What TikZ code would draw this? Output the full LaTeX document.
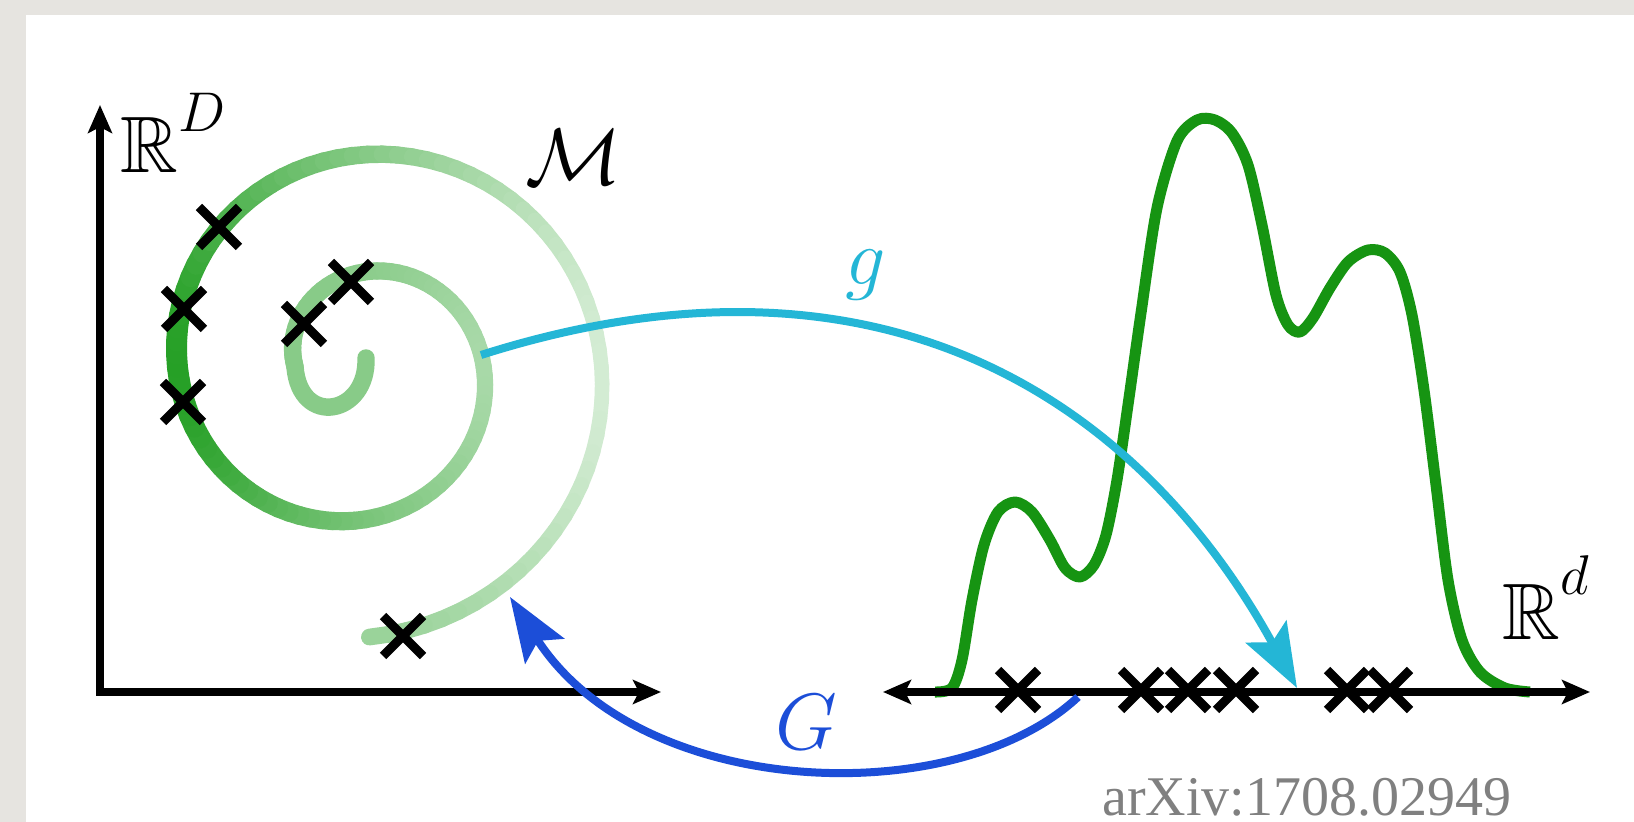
\RequirePackage{fix-cm}
\documentclass[tikz,border=0pt]{standalone}
\usepackage{amssymb}
\usepackage{fontspec}
\newfontfamily\arxivfont{Liberation Serif}
\usetikzlibrary{arrows.meta}
\definecolor{cpaper}{RGB}{230,228,224}
\definecolor{cspiral}{RGB}{38,160,38}
\definecolor{cdens}{RGB}{22,148,18}
\definecolor{ccyan}{RGB}{36,182,214}
\definecolor{cblue}{RGB}{28,78,216}
\definecolor{carxiv}{RGB}{128,128,128}
\tikzset{
  every picture/.style={x=0.5pt, y=-0.5pt},
  lbl/.style={inner sep=0pt, font=\fontsize{40}{48}\selectfont},
  axisline/.style={line width=4.25pt, line join=miter, {Stealth[length=14pt, width=12pt, inset=3pt]}-{Stealth[length=14pt, width=12pt, inset=3pt]}},
  density/.style={draw=cdens, line width=5.5pt, line join=round},
  mapto/.style={line width=4pt, -{Stealth[length=32pt, width=23pt, inset=6pt]}},
  sample/.pic={\draw[line width=4.5pt] (-20,-20) -- (20,20) (-20,20) -- (20,-20);},
}
\begin{document}
\begin{tikzpicture}
  \useasboundingbox (0,0) rectangle (1634,822);
  \fill[cpaper] (0,0) rectangle (1634,822);
  \fill[white] (26,15) rectangle (1640,830);
  % manifold: inner hook, then the shaded turns
  \draw[line width=8.7pt, line cap=round, cspiral!55!white] (366,358) .. controls (368,415) and (300,428) .. (295,367);
  \foreach \a in {180,184,...,804}{
    \pgfmathsetmacro\shade{min(100,max(15,55+45*exp(-(((\a-540)/70)^2))-35*exp(-(((\a-720)/70)^2))-15*exp(-(((\a-360)/60)^2))))}
    \pgfmathsetmacro\lw{6.5+0.04*\shade}
    \draw[line width=\lw pt, line cap=round, cspiral!\shade!white]
      ({360+(6+0.327*\a)*cos(\a)},{367+(6+0.327*\a)*sin(\a)}) --
      ({360+(6+0.327*(\a+4))*cos(\a+4)},{367+(6+0.327*(\a+4))*sin(\a+4)});
  }
  % axes
  \coordinate (origin) at (100,692);
  \coordinate (ytip) at (100,105);
  \coordinate (xtip) at (661,692);
  \draw[axisline] (ytip) -- (origin) -- (xtip);
  % density on the latent line
  \draw[density] plot[smooth, tension=0.5] coordinates {(935,692) (952,688) (962,660) (972,600) (984,545) (998,512) (1015,502) (1032,512) (1050,540) (1065,568) (1080,577) (1094,565) (1106,535) (1117,480) (1128,405) (1141,313) (1157,208) (1177,141) (1197,120) (1215,120) (1232,133) (1248,165) (1262,225) (1276,295) (1288,325) (1300,332) (1313,318) (1330,288) (1348,262) (1368,250) (1385,253) (1400,272) (1412,315) (1424,390) (1436,485) (1448,580) (1462,640) (1480,672) (1505,688) (1530,692)};
  \coordinate (dleft) at (883,692);
  \coordinate (dright) at (1590,692);
  \draw[axisline] (dleft) -- (dright);
  % samples
  \foreach \x/\y in {219/227, 184/309, 183/402, 304/324, 351/282, 403/636, 1018/690, 1141/690, 1188/690, 1236/690, 1347/690, 1390/690}
    \pic at (\x,\y) {sample};
  % maps
  \coordinate (gfrom) at (481,355);
  \coordinate (gto) at (1297,688);
  \draw[mapto, ccyan] (gfrom) .. controls (900,222) and (1150,420) .. (gto);
  \coordinate (Gfrom) at (1078,697);
  \coordinate (Gto) at (510,597);
  \draw[mapto, cblue] (Gfrom) .. controls (955,812) and (640,800) .. (Gto);
  % labels
  \node[lbl, anchor=base west] (RD) at (120,173) {$\mathbb{R}^{\raisebox{6pt}{$\scriptstyle D$}}$};
  \node[lbl, anchor=base] (M) at (574,185) {$\mathcal{M}$};
  \node[lbl, anchor=base, text=ccyan] (glabel) at (866,285) {$g$};
  \node[lbl, anchor=base, text=cblue] (Glabel) at (806,750) {$G$};
  \node[lbl, anchor=base west] (Rd) at (1502,640) {$\mathbb{R}^{\raisebox{8pt}{$\scriptstyle d$}}$};
  \node[inner sep=0pt, anchor=base west, text=carxiv, font=\arxivfont\fontsize{28}{34}\selectfont] (arxiv) at (1102,816) {arXiv:1708.02949};
\end{tikzpicture}
\end{document}
